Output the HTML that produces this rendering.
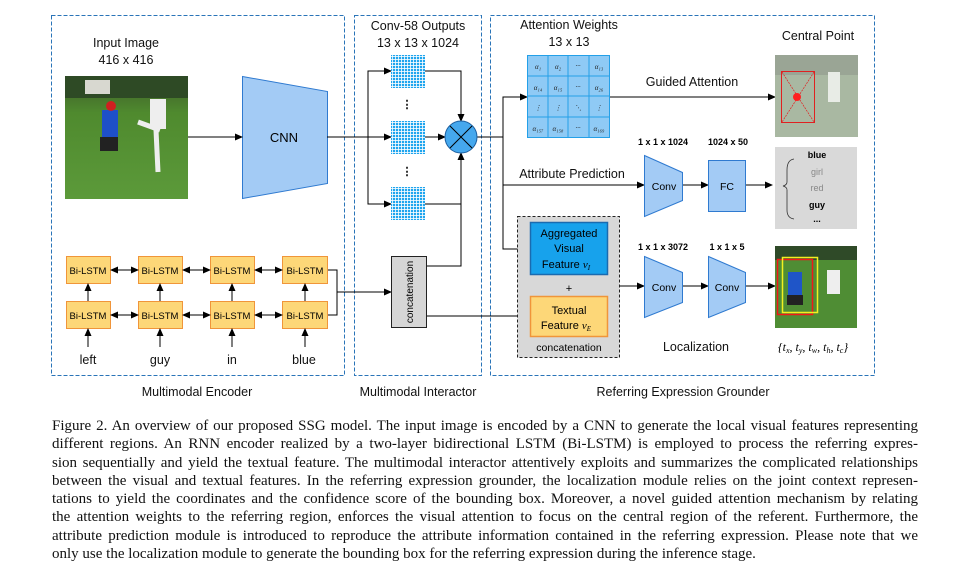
<!DOCTYPE html>
<html><head><meta charset="utf-8"><style>
body{margin:0;background:#fff;width:968px;height:583px;overflow:hidden;position:relative;font-family:"Liberation Sans",sans-serif}
svg{position:absolute;left:0;top:0}
.cap{position:absolute;left:52px;width:866px;font-family:"Liberation Serif",serif;font-size:15px;color:#111;line-height:18px}
.cap div{text-align:justify;text-align-last:justify;white-space:nowrap;height:18.3px}
.cap div.l{text-align-last:left}
</style></head><body>
<svg width="968" height="400" viewBox="0 0 968 400" font-family="Liberation Sans, sans-serif">
<defs>
<marker id="a" markerWidth="8" markerHeight="8" refX="7" refY="4" orient="auto" markerUnits="userSpaceOnUse"><path d="M0,0.5 L8,4 L0,7.5z" fill="#000"/></marker>
<pattern id="g" width="3" height="3" patternUnits="userSpaceOnUse"><rect width="3" height="3" fill="#fff"/><rect width="2.2" height="2.2" fill="#1fa5ee"/></pattern>
<linearGradient id="grass" x1="0" y1="0" x2="0" y2="1"><stop offset="0" stop-color="#3d5a2a"/><stop offset="0.3" stop-color="#4f8a2e"/><stop offset="1" stop-color="#5c9a3a"/></linearGradient>
</defs>
<g fill="none" stroke="#2a74b8" stroke-width="1" stroke-dasharray="4,2">
<rect x="51.5" y="15.5" width="293" height="360"/>
<rect x="354.5" y="15.5" width="127" height="360"/>
<rect x="490.5" y="15.5" width="384" height="360"/>
</g>
<g font-size="12.5" text-anchor="middle" fill="#111">
<text x="126" y="47">Input Image</text><text x="126" y="64">416 x 416</text>
<text x="418" y="30">Conv-58 Outputs</text><text x="418" y="47">13 x 13 x 1024</text>
<text x="569" y="29">Attention Weights</text><text x="569" y="46">13 x 13</text>
<text x="818" y="40">Central Point</text>
<text x="692" y="86">Guided Attention</text>
<text x="572" y="178">Attribute Prediction</text>
<text x="696" y="351">Localization</text>
<text x="197" y="396">Multimodal Encoder</text>
<text x="418" y="396">Multimodal Interactor</text>
<text x="683" y="396">Referring Expression Grounder</text>
<text x="88" y="364">left</text><text x="160" y="364">guy</text><text x="232" y="364">in</text><text x="304" y="364">blue</text>
</g>
<rect x="65" y="76" width="123" height="123" fill="url(#grass)"/>
<rect x="65" y="76" width="123" height="22" fill="#2e4a25"/>
<rect x="85" y="80" width="25" height="14" fill="#d8d8d0"/>
<rect x="102" y="110" width="16" height="28" fill="#1e50c8"/>
<rect x="100" y="137" width="18" height="14" fill="#222"/>
<circle cx="111" cy="106" r="5" fill="#d02020"/>
<rect x="150" y="99" width="16" height="30" fill="#eee"/>
<path d="M156,130 L158,172 M160,130 L138,122" stroke="#eee" stroke-width="5"/>
<path d="M242.5,76.5 L327.5,91.5 L327.5,183.5 L242.5,198.5z" fill="#a3cbf5" stroke="#2f7ad0"/>
<text x="284" y="142" font-size="13" text-anchor="middle">CNN</text>
<g stroke="#000" fill="none" stroke-width="1">
<line x1="188" y1="137" x2="242" y2="137" marker-end="url(#a)"/>
<line x1="327" y1="137" x2="391" y2="137" marker-end="url(#a)"/>
<polyline points="391,71 368,71 368,204 391,204" />
<line x1="368" y1="71" x2="391" y2="71" marker-end="url(#a)"/>
<line x1="368" y1="204" x2="391" y2="204" marker-end="url(#a)"/>
<polyline points="425,71 461,71 461,121" marker-end="url(#a)"/>
<line x1="425" y1="137" x2="445" y2="137" marker-end="url(#a)"/>
<polyline points="425,204 461,204"/>
<polyline points="426,266 461,266 461,153" marker-end="url(#a)"/>
<line x1="477" y1="137" x2="503" y2="137"/>
<polyline points="503,137 503,97 527,97" marker-end="url(#a)"/>
<polyline points="503,137 503,249 530,249" marker-end="url(#a)"/>
<line x1="503" y1="185" x2="644" y2="185" marker-end="url(#a)"/>
<line x1="609" y1="97" x2="775" y2="97" marker-end="url(#a)"/>
<line x1="682" y1="185" x2="708" y2="185" marker-end="url(#a)"/>
<line x1="745" y1="185" x2="772" y2="185" marker-end="url(#a)"/>
<line x1="619" y1="286" x2="644" y2="286" marker-end="url(#a)"/>
<line x1="682" y1="286" x2="708" y2="286" marker-end="url(#a)"/>
<line x1="745" y1="286" x2="775" y2="286" marker-end="url(#a)"/>
<polyline points="327,270 337,270 337,315 327,315"/>
<line x1="337" y1="292" x2="391" y2="292" marker-end="url(#a)"/>
<line x1="426" y1="316" x2="530" y2="316" marker-end="url(#a)"/>
</g>
<rect x="391" y="55" width="34" height="33" fill="url(#g)"/>
<rect x="391" y="121" width="34" height="33" fill="url(#g)"/>
<rect x="391" y="187" width="34" height="33" fill="url(#g)"/>
<text x="407" y="108" font-size="11" text-anchor="middle" font-weight="bold">⋮</text>
<text x="407" y="175" font-size="11" text-anchor="middle" font-weight="bold">⋮</text>
<circle cx="461" cy="137" r="16" fill="#45a8ee" stroke="#1c5fa0"/>
<path d="M450,126 L472,148 M472,126 L450,148" stroke="#000"/>
<rect x="391.5" y="256.5" width="35" height="71" fill="#d6d6d6" stroke="#222"/>
<text transform="translate(413,292) rotate(-90)" font-size="10" text-anchor="middle">concatenation</text>
<g font-size="9.5" text-anchor="middle">
<g fill="#fdd778" stroke="#f0953a">
<rect x="66.5" y="256.5" width="44" height="27"/><rect x="138.5" y="256.5" width="44" height="27"/><rect x="210.5" y="256.5" width="44" height="27"/><rect x="282.5" y="256.5" width="45" height="27"/>
<rect x="66.5" y="301.5" width="44" height="27"/><rect x="138.5" y="301.5" width="44" height="27"/><rect x="210.5" y="301.5" width="44" height="27"/><rect x="282.5" y="301.5" width="45" height="27"/>
</g>
<text x="88" y="274">Bi-LSTM</text><text x="160" y="274">Bi-LSTM</text><text x="232" y="274">Bi-LSTM</text><text x="305" y="274">Bi-LSTM</text>
<text x="88" y="319">Bi-LSTM</text><text x="160" y="319">Bi-LSTM</text><text x="232" y="319">Bi-LSTM</text><text x="305" y="319">Bi-LSTM</text>
</g>
<g stroke="#000" marker-end="url(#a)">
<line x1="88" y1="301" x2="88" y2="284"/><line x1="160" y1="301" x2="160" y2="284"/><line x1="232" y1="301" x2="232" y2="284"/><line x1="305" y1="301" x2="305" y2="284"/>
<line x1="88" y1="347" x2="88" y2="329"/><line x1="160" y1="347" x2="160" y2="329"/><line x1="232" y1="347" x2="232" y2="329"/><line x1="305" y1="347" x2="305" y2="329"/>
<line x1="120" y1="270" x2="138" y2="270"/><line x1="192" y1="270" x2="210" y2="270"/><line x1="264" y1="270" x2="282" y2="270"/>
<line x1="128" y1="270" x2="111" y2="270"/><line x1="200" y1="270" x2="183" y2="270"/><line x1="272" y1="270" x2="255" y2="270"/>
<line x1="120" y1="315" x2="138" y2="315"/><line x1="192" y1="315" x2="210" y2="315"/><line x1="264" y1="315" x2="282" y2="315"/>
<line x1="128" y1="315" x2="111" y2="315"/><line x1="200" y1="315" x2="183" y2="315"/><line x1="272" y1="315" x2="255" y2="315"/>
</g>
<rect x="527.5" y="55.5" width="82" height="82" fill="#8fcaf5" stroke="#24a0e8"/>
<g stroke="#24a0e8"><line x1="548" y1="55" x2="548" y2="137"/><line x1="568" y1="55" x2="568" y2="137"/><line x1="589" y1="55" x2="589" y2="137"/>
<line x1="527" y1="76" x2="609" y2="76"/><line x1="527" y1="96" x2="609" y2="96"/><line x1="527" y1="117" x2="609" y2="117"/></g>
<g font-size="7" font-family="Liberation Serif, serif" font-style="italic" text-anchor="middle" fill="#222">
<text x="538" y="69">α₁</text><text x="558" y="69">α₂</text><text x="578" y="68">···</text><text x="599" y="69">α₁₃</text>
<text x="538" y="90">α₁₄</text><text x="558" y="90">α₁₅</text><text x="578" y="89">···</text><text x="599" y="90">α₂₆</text>
<text x="538" y="110">⋮</text><text x="558" y="110">⋮</text><text x="578" y="110">⋱</text><text x="599" y="110">⋮</text>
<text x="538" y="131">α₁₅₇</text><text x="558" y="131">α₁₅₈</text><text x="578" y="130">···</text><text x="599" y="131">α₁₆₉</text>
</g>
<rect x="775" y="55" width="83" height="82" fill="#a9b8a2"/>
<rect x="775" y="55" width="83" height="20" fill="#9aa595"/>
<rect x="781.5" y="71.5" width="33" height="51" fill="none" stroke="#e02020"/>
<path d="M782,72 L814,122 M814,72 L782,122" stroke="#e02020" stroke-width="0.7" stroke-dasharray="2,1"/>
<circle cx="797" cy="97" r="4" fill="#ff2020"/>
<rect x="828" y="72" width="12" height="30" fill="#e8ece6"/>
<path d="M644.5,155.5 L682.5,172.5 L682.5,200.5 L644.5,216.5z" fill="#a3cbf5" stroke="#2f7ad0"/>
<rect x="708.5" y="160.5" width="37" height="51" fill="#a3cbf5" stroke="#2f7ad0"/>
<path d="M644.5,256.5 L682.5,272.5 L682.5,302.5 L644.5,317.5z" fill="#a3cbf5" stroke="#2f7ad0"/>
<path d="M708.5,256.5 L745.5,272.5 L745.5,302.5 L708.5,317.5z" fill="#a3cbf5" stroke="#2f7ad0"/>
<g font-size="10.5" text-anchor="middle"><text x="664" y="190">Conv</text><text x="727" y="190">FC</text>
<text x="664" y="291">Conv</text><text x="727" y="291">Conv</text></g>
<g font-size="9" text-anchor="middle" font-weight="bold"><text x="663" y="145">1 x 1 x 1024</text><text x="728" y="145">1024 x 50</text>
<text x="663" y="250">1 x 1 x 3072</text><text x="727" y="250">1 x 1 x 5</text></g>
<rect x="775" y="147" width="82" height="82" fill="#d9d9d9"/>
<path d="M794,159 Q787,160 787,170 L787,182 Q787,185 783,186 Q787,187 787,190 L787,210 Q787,218 794,219" fill="none" stroke="#333" stroke-width="0.8"/>
<g font-size="9" text-anchor="middle"><text x="817" y="158" font-weight="bold">blue</text><text x="817" y="175" fill="#888">girl</text><text x="817" y="191" fill="#888">red</text><text x="817" y="208" font-weight="bold">guy</text><text x="817" y="222" font-weight="bold">...</text></g>
<rect x="517.5" y="216.5" width="102" height="141" fill="#d8d8d8" stroke="#222" stroke-dasharray="3,2"/>
<rect x="530.5" y="222.5" width="77" height="52" fill="#17a2ec" stroke="#1a6bb0" stroke-width="1.5"/>
<rect x="530.5" y="296.5" width="77" height="40" fill="#fdd778" stroke="#f0953a" stroke-width="1.5"/>
<g font-size="11" text-anchor="middle"><text x="569" y="237">Aggregated</text><text x="569" y="252">Visual</text><text x="566" y="268">Feature <tspan font-family="Liberation Serif,serif" font-style="italic">v<tspan font-size="7" dy="2">I</tspan></tspan></text>
<text x="569" y="292">+</text><text x="569" y="314">Textual</text><text x="566" y="329">Feature <tspan font-family="Liberation Serif,serif" font-style="italic">v<tspan font-size="7" dy="2">E</tspan></tspan></text>
<text x="569" y="351" font-size="10.5">concatenation</text></g>
<rect x="775" y="246" width="82" height="82" fill="#4f8d34"/>
<rect x="775" y="246" width="82" height="14" fill="#2f4a28"/>
<rect x="788" y="272" width="14" height="24" fill="#1f55c8"/>
<rect x="787" y="295" width="16" height="10" fill="#222"/>
<rect x="827" y="270" width="13" height="24" fill="#eee"/>
<rect x="777.5" y="259.5" width="35" height="55" fill="none" stroke="#f01818" stroke-width="1.5"/>
<rect x="782.5" y="257.5" width="35" height="55" fill="none" stroke="#f2f020" stroke-width="1.5"/>
<text x="813" y="351" font-size="12" font-family="Liberation Serif, serif" font-style="italic" text-anchor="middle">{t<tspan font-size="8" dy="2">x</tspan><tspan dy="-2">, t</tspan><tspan font-size="8" dy="2">y</tspan><tspan dy="-2">, t</tspan><tspan font-size="8" dy="2">w</tspan><tspan dy="-2">, t</tspan><tspan font-size="8" dy="2">h</tspan><tspan dy="-2">, t</tspan><tspan font-size="8" dy="2">c</tspan><tspan dy="-2">}</tspan></text>
</svg>
<div class="cap" style="top:417px">
<div>Figure 2. An overview of our proposed SSG model. The input image is encoded by a CNN to generate the local visual features representing</div>
<div>different regions. An RNN encoder realized by a two-layer bidirectional LSTM (Bi-LSTM) is employed to process the referring expres-</div>
<div>sion sequentially and yield the textual feature. The multimodal interactor attentively exploits and summarizes the complicated relationships</div>
<div>between the visual and textual features. In the referring expression grounder, the localization module relies on the joint context represen-</div>
<div>tations to yield the coordinates and the confidence score of the bounding box. Moreover, a novel guided attention mechanism by relating</div>
<div>the attention weights to the referring region, enforces the visual attention to focus on the central region of the referent. Furthermore, the</div>
<div>attribute prediction module is introduced to reproduce the attribute information contained in the referring expression. Please note that we</div>
<div class="l">only use the localization module to generate the bounding box for the referring expression during the inference stage.</div>
</div>
</body></html>
